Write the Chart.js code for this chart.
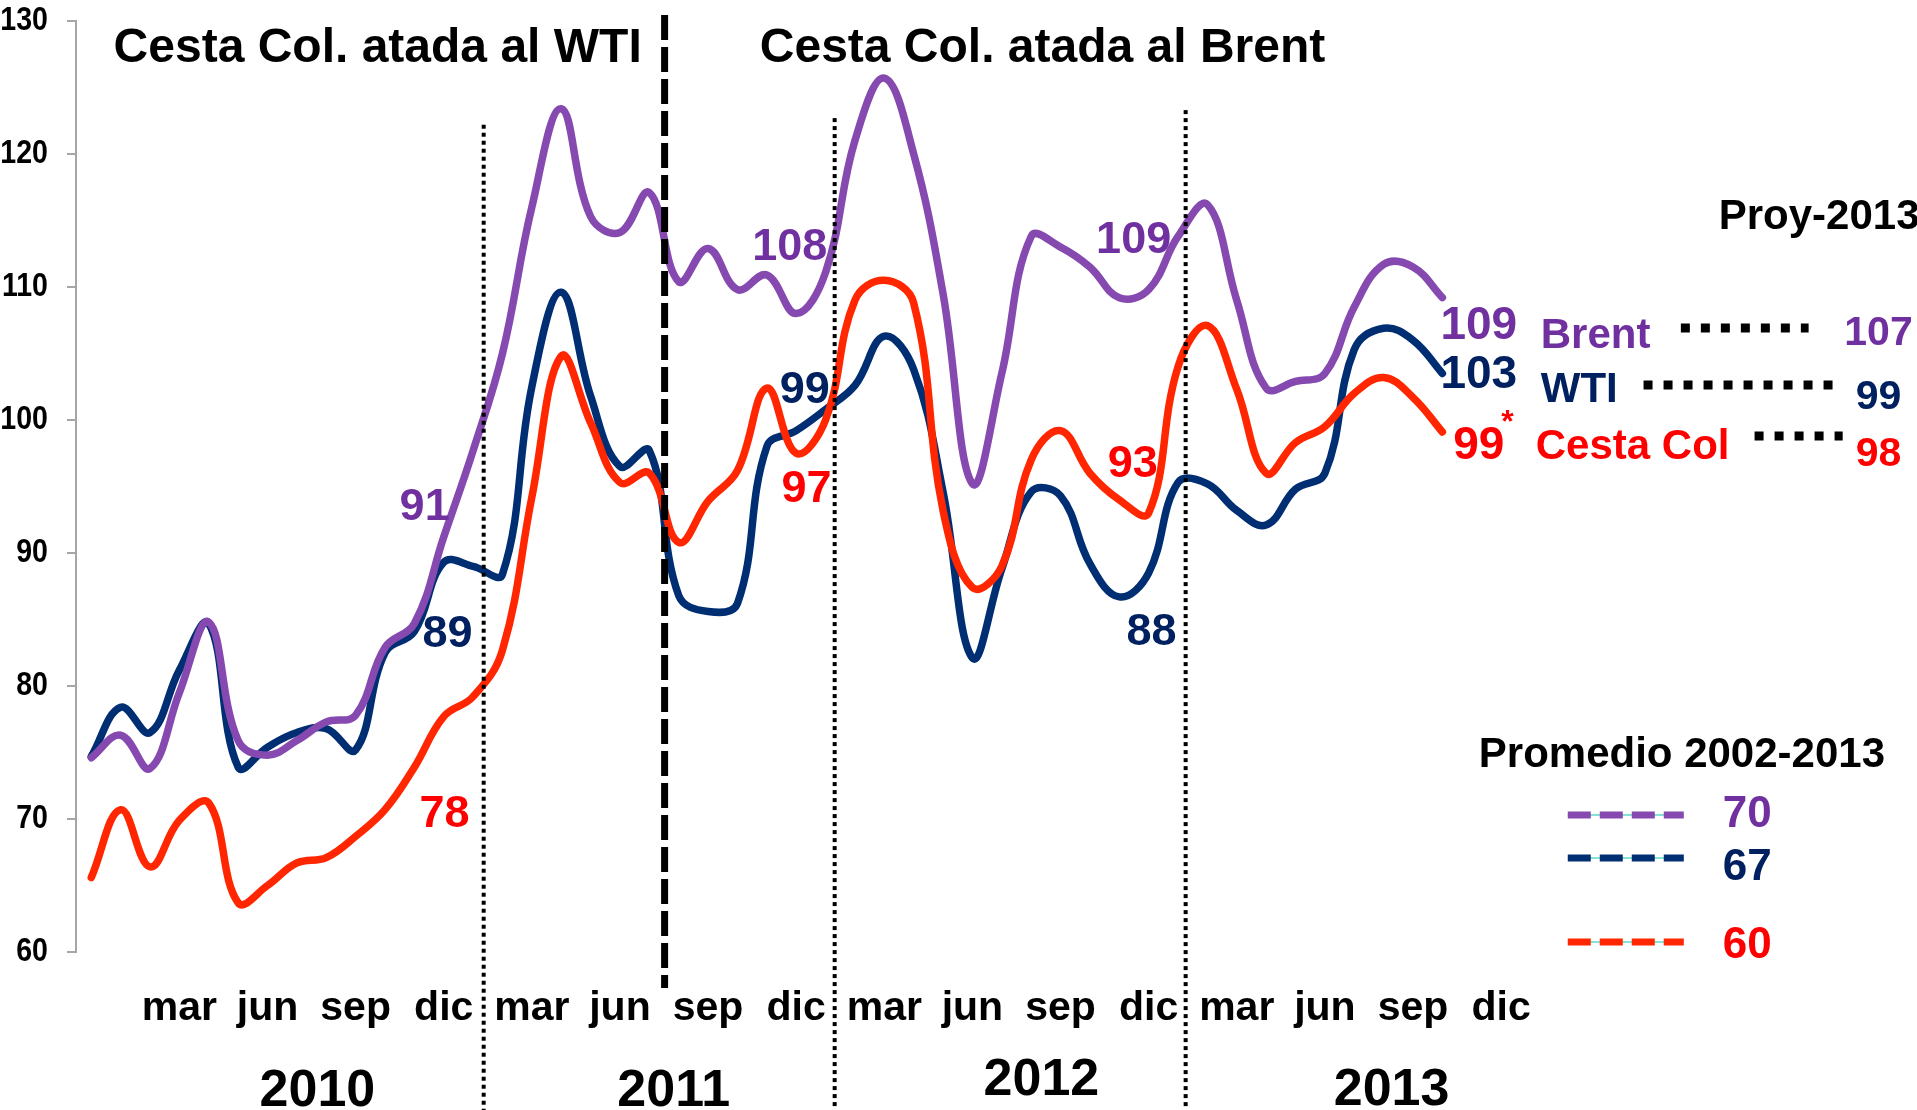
<!DOCTYPE html>
<html>
<head>
<meta charset="utf-8">
<script src="https://cdn.jsdelivr.net/npm/chart.js@4.4.1/dist/chart.umd.min.js"></script>
<style>
  html, body { margin: 0; padding: 0; background: #fff; }
  #wrap { width: 1917px; height: 1110px; position: relative; }
</style>
</head>
<body>
<div id="wrap"><canvas id="chart"></canvas></div>
<script>
// Monthly prices, dic-2009 .. oct-2013 (index 0 = dic 2009)
const monthNames = ['dic', 'ene', 'feb', 'mar', 'abr', 'may', 'jun', 'jul', 'ago', 'sep', 'oct', 'nov'];
const tickIdx = [3, 6, 9, 12, 15, 18, 21, 24, 27, 30, 33, 36, 39, 42, 45, 48];
const years = ['2010', '2011', '2012', '2013'];

const brent = [74.6, 76.3, 73.8, 79.5, 84.8, 75.9, 74.8, 75.9, 77.3, 77.8, 82.9, 84.7,
  91.2, 97.7, 105, 116, 123.4, 115.3, 114.1, 117.1, 110.4, 112.9, 109.8, 110.9,
  108, 111.1, 121, 125.7, 120, 109.5, 95.2, 103.5, 113.8, 113, 111.5, 109.2,
  109.8, 113.8, 116.2, 109, 102.4, 102.9, 103.5, 108.5, 111.7, 111.5, 109.2];
const wti = [74.7, 78.4, 76.5, 81.2, 84.7, 73.9, 75.4, 76.5, 76.8, 75.2, 82.5, 84.1,
  89.3, 89.0, 88.4, 102.5, 109.6, 101.8, 96.5, 97.7, 86.8, 85.6, 86.2, 98.0,
  99.2, 100.8, 102.6, 106.3, 103.8, 94.6, 82.1, 88.8, 94.6, 94.3, 89.2, 86.7,
  88.5, 95.3, 95.2, 93.2, 92.1, 94.8, 96.0, 105.3, 106.9, 106.0, 103.5];
const cesta = [65.6, 70.7, 66.4, 69.9, 71.2, 63.7, 65.0, 66.7, 67.1, 68.7, 70.7, 73.9,
  77.7, 79.2, 82.7, 94.2, 104.8, 99.8, 95.3, 96.0, 90.8, 93.9, 96.2, 102.4,
  97.5, 100.0, 109.0, 110.5, 108.8, 93.2, 87.4, 89.0, 97.0, 99.2, 96.0, 94.0,
  93.0, 104.0, 107.1, 102.3, 96.0, 98.3, 99.5, 102.0, 103.2, 101.7, 99.1];

// annual average labels
const brentAvg = ['91', '108', '109'];
const wtiAvg = ['89', '99', '88'];
const cestaAvg = ['78', '97', '93'];
// last value, projection 2013, average 2002-2013
const lastVal = ['109', '103', '99'];
const proy2013 = ['107', '99', '98'];
const prom0213 = ['70', '67', '60'];
const seriesNames = ['Brent', 'WTI', 'Cesta Col'];

const purple = '#8549b0', navy = '#002e73', red = '#ff2600';
const purpleTxt = '#7030a0', navyTxt = '#002060', redTxt = '#ff0000';
const FONT = '"Liberation Sans", Arial, sans-serif';

Chart.defaults.font.family = FONT;

const pts = arr => arr.map((v, i) => ({ x: i, y: v }));

const overlay = {
  id: 'overlay',
  afterDatasetsDraw(chart) {
    const { ctx, scales: { x, y } } = chart;
    const X = v => x.getPixelForValue(v);
    const Y = v => y.getPixelForValue(v);
    const text = (s, xi, yv, size, color, align) => {
      ctx.font = 'bold ' + size + 'px ' + FONT;
      ctx.fillStyle = color;
      ctx.textAlign = align || 'center';
      ctx.textBaseline = 'alphabetic';
      ctx.fillText(s, X(xi), Y(yv));
    };
    const hline = (x0, x1, yv, w, dash, color) => {
      ctx.beginPath();
      ctx.strokeStyle = color;
      ctx.lineWidth = w;
      ctx.setLineDash(dash);
      ctx.moveTo(X(x0), Y(yv));
      ctx.lineTo(X(x1), Y(yv));
      ctx.stroke();
    };
    ctx.save();
    ctx.lineCap = 'butt';

    // y tick labels, narrow like Arial Narrow Bold
    ctx.font = 'bold 34px ' + FONT;
    ctx.fillStyle = '#000';
    ctx.textAlign = 'right';
    ctx.textBaseline = 'middle';
    y.ticks.forEach(t => {
      ctx.save();
      ctx.translate(y.left + y.width - 28, Y(t.value));
      ctx.scale(0.84, 1);
      ctx.fillText(String(t.value), 0, 0);
      ctx.restore();
    });

    // year separators (dotted)
    ctx.strokeStyle = '#000';
    ctx.lineWidth = 4;
    ctx.setLineDash([4, 4]);
    [[13.36, 122.2], [25.31, 122.7], [37.26, 123.3]].forEach(([at, top]) => {
      ctx.beginPath();
      ctx.moveTo(X(at), Y(top));
      ctx.lineTo(X(at), chart.height);
      ctx.stroke();
    });
    // WTI -> Brent switch (thick dashed)
    ctx.lineWidth = 7;
    ctx.setLineDash([25, 7]);
    ctx.beginPath();
    ctx.moveTo(X(19.52), Y(130.45));
    ctx.lineTo(X(19.52), Y(57.3));
    ctx.stroke();
    ctx.setLineDash([]);

    // month ticks and years
    tickIdx.forEach(t => text(monthNames[t % 12], t, 54.89, 41, '#000'));
    [[7.7, 48.42], [19.83, 48.42], [32.35, 49.25], [44.27, 48.5]].forEach(([xi, yv], k) =>
      text(years[k], xi, yv, 52, '#000'));

    // titles
    text('Cesta Col. atada al WTI', 0.76, 126.92, 48, '#000', 'left');
    text('Cesta Col. atada al Brent', 22.76, 126.92, 48, '#000', 'left');

    // annual average labels
    const avgPos = [
      [[11.35, 92.5], [23.78, 112.03], [35.49, 112.56]],
      [[12.13, 82.93], [24.29, 101.28], [36.1, 83.08]],
      [[12.03, 69.4], [24.35, 93.83], [35.46, 95.71]]
    ];
    const txtCols = [purpleTxt, navyTxt, redTxt];
    [brentAvg, wtiAvg, cestaAvg].forEach((arr, s) =>
      arr.forEach((lab, k) => text(lab, avgPos[s][k][0], avgPos[s][k][1], 45, txtCols[s])));

    // end of series values + names + projection
    const endY = [106.09, 102.41, 97.07];
    lastVal.forEach((lab, s) => text(lab, 47.24, endY[s], 46, txtCols[s]));
    text('*', 48.22, 99.1, 32, redTxt);
    const nameY = [105.41, 101.35, 97.07];
    const nameX = [49.35, 49.35, 49.18];
    seriesNames.forEach((n, s) => text(n, nameX[s], nameY[s], 42, txtCols[s], 'left'));
    const leaders = [[54.12, 58.47, 106.92], [52.85, 59.32, 102.63], [56.63, 59.63, 98.80]];
    leaders.forEach(([a, b, yv]) => hline(a, b, yv, 9, [9, 11], '#000'));
    const proyY = [105.64, 100.83, 96.54];
    proy2013.forEach((lab, s) => text(lab, 60.85, proyY[s], 41, txtCols[s]));
    text('Proy-2013', 55.41, 114.36, 42, '#000', 'left');

    // average 2002-2013 block
    text('Promedio 2002-2013', 47.24, 73.91, 42, '#000', 'left');
    const lineCols = [purple, navy, red];
    [70.30, 67.07, 60.75].forEach((yv, s) => {
      hline(50.27, 54.22, yv, 1.5, [], '#5fd8c8');
      hline(50.27, 54.22, yv, 7, [23, 9], lineCols[s]);
    });
    [69.40, 65.41, 59.55].forEach((yv, s) => text(prom0213[s], 55.55, yv, 44, txtCols[s], 'left'));

    ctx.restore();
  }
};

new Chart(document.getElementById('chart'), {
  type: 'line',
  data: {
    datasets: [
      { label: 'Cesta Col', data: pts(cesta), borderColor: red },
      { label: 'Brent', data: pts(brent), borderColor: purple },
      { label: 'WTI', data: pts(wti), borderColor: navy }
    ]
  },
  options: {
    responsive: true,
    maintainAspectRatio: false,
    animation: false,
    layout: { padding: { top: 21, left: 0, right: 0, bottom: 0 } },
    plugins: { legend: { display: false }, tooltip: { enabled: false } },
    elements: {
      point: { radius: 0 },
      line: { tension: 0.4, borderWidth: 7.5, borderCapStyle: 'round', borderJoinStyle: 'round', fill: false }
    },
    scales: {
      x: {
        type: 'linear', min: -0.52, max: 62.16,
        grid: { display: false }, border: { display: false },
        ticks: { display: false },
        afterFit: s => { s.height = 158; s.paddingLeft = 0; s.paddingRight = 0; }
      },
      y: {
        min: 60, max: 130,
        ticks: { stepSize: 10, display: false },
        grid: { drawOnChartArea: false, drawTicks: true, tickLength: 9, color: '#a6a6a6', lineWidth: 2 },
        border: { color: '#a6a6a6', width: 2 },
        afterFit: s => { s.width = 76; s.paddingTop = 0; s.paddingBottom = 0; }
      }
    }
  },
  plugins: [overlay]
});
</script>
</body>
</html>
